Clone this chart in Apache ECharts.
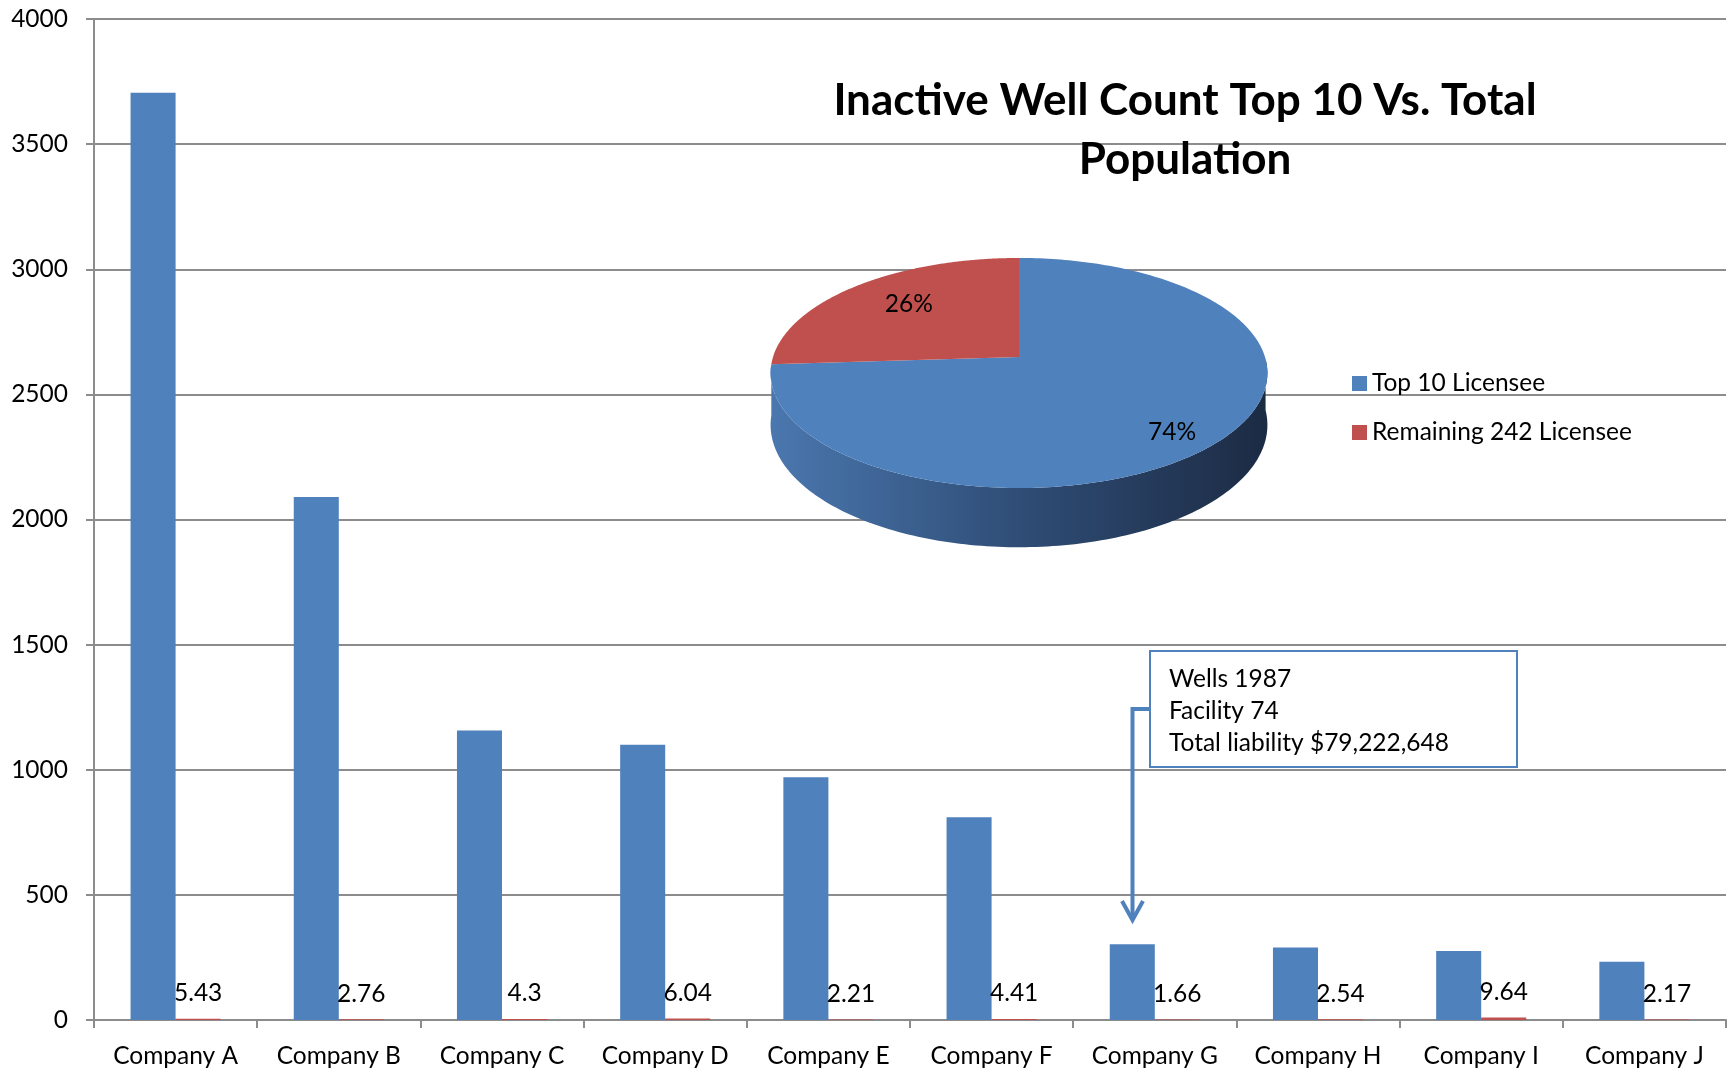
<!DOCTYPE html>
<html><head><meta charset="utf-8">
<script src="https://cdn.jsdelivr.net/npm/echarts@6/dist/echarts.min.js"></script>
<style>html,body{margin:0;padding:0;background:#fff}#c{width:1732px;height:1077px}</style>
</head><body><div id="c"></div>
<script>
// ---- data ----
const categories = ['Company A','Company B','Company C','Company D','Company E','Company F','Company G','Company H','Company I','Company J'];
const wellCounts = [3705, 2090, 1157, 1100, 970, 810, 303, 290, 276, 233];
const liabilityValues = [5.43, 2.76, 4.3, 6.04, 2.21, 4.41, 1.66, 2.54, 9.64, 2.17];
const yMin = 0, yMax = 4000, yInterval = 500;
const pieNames = ['Top 10 Licensee', 'Remaining 242 Licensee'];
const pieValues = [74, 26];
const noteLines = ['Wells 1987', 'Facility 74', 'Total liability $79,222,648'];
const titleText = 'Inactive Well Count Top 10 Vs. Total\nPopulation';

// ---- style ----
const FONT = 'Lato';
const FS = 24.5;
const BLUE = '#4f81bd', RED = '#c0504d';
const GRID_C = '#8c8c8c';
const pieColors = [BLUE, RED];
const sideStops = [
  [{offset:0,color:'#4a77ae'},{offset:0.5,color:'#2f4d76'},{offset:1,color:'#1c2b44'}],
  [{offset:0,color:'#a8433f'},{offset:0.5,color:'#7a2f2c'},{offset:1,color:'#4f1e1c'}]
];
const labelNudge = [[2, 10], [20, 3]];
const P = {cx:1019, cy:357, R:246, H:112.8, k:0.139, D:51};
function proj(a, down){
  const u = Math.cos(a), v = Math.sin(a), s = 1/(1+P.k*v);
  return [P.cx + P.R*u*s, P.cy - P.H*v*s + (down ? P.D*s : 0)];
}
function pieRender(idx){
  return function(params, api){
    const total = pieValues.reduce((s,v)=>s+v,0);
    let before = 0; for (let j=0;j<idx;j++) before += pieValues[j];
    const a0 = Math.PI/2 - 2*Math.PI*before/total;
    const a1 = a0 - 2*Math.PI*pieValues[idx]/total;
    const n = 240, step = (a0-a1)/n;
    const arc = []; for (let t=0;t<=n;t++) arc.push(a0 - t*step);
    const children = [];
    const runs = []; let run = [];
    arc.forEach(a => { if (Math.sin(a) <= 0.0001) run.push(a); else { if (run.length>1) runs.push(run); run = []; } });
    if (run.length>1) runs.push(run);
    runs.forEach(r => {
      const top = r.map(a=>proj(a,false));
      const xs = top.map(p=>p[0]);
      if (Math.max.apply(null,xs) - Math.min.apply(null,xs) < 2) return; // edge-on sliver, not visible
      const pts = top.concat(r.slice().reverse().map(a=>proj(a,true)));
      children.push({type:'polygon', shape:{points:pts},
        style:{fill: new echarts.graphic.LinearGradient(P.cx-P.R,0,P.cx+P.R,0, sideStops[idx], true)}});
    });
    const topFace = [[P.cx,P.cy]].concat(arc.map(a=>proj(a,false)));
    children.push({type:'polygon', shape:{points:topFace}, style:{fill:pieColors[idx]}});
    const mid = (a0+a1)/2, rr = 0.78;
    const u = rr*Math.cos(mid), v = rr*Math.sin(mid), s = 1/(1+P.k*v);
    children.push({type:'text', style:{text: Math.round(pieValues[idx]/total*100)+'%',
      x: P.cx + P.R*u*s + labelNudge[idx][0], y: P.cy - P.H*v*s + labelNudge[idx][1],
      align:'center', verticalAlign:'middle', font: FS + 'px ' + FONT, fill:'#000'}});
    return {type:'group', children};
  };
}

const chart = echarts.init(document.getElementById('c'), null, {renderer:'canvas'});
chart.setOption({
  animation:false,
  backgroundColor:'#fff',
  title:{text:titleText, left:1180, top:66, textAlign:'center',
    textStyle:{fontFamily:FONT, fontWeight:'bold', fontSize:44, lineHeight:59, color:'#000'}},
  legend:{data:pieNames, orient:'vertical', left:1352, top:371, padding:0, itemWidth:15, itemHeight:15, itemGap:24,
    icon:'rect', textStyle:{fontFamily:FONT, fontSize:FS, color:'#000'}},
  grid:{left:94, right:6, top:19, bottom:57, containLabel:false},
  xAxis:{type:'category', data:categories,
    axisLine:{lineStyle:{color:GRID_C, width:2}},
    axisTick:{show:true, length:8, lineStyle:{color:GRID_C, width:2}},
    axisLabel:{margin:24, fontFamily:FONT, fontSize:FS, color:'#000', interval:0}},
  yAxis:{type:'value', min:yMin, max:yMax, interval:yInterval,
    axisLine:{show:true, lineStyle:{color:GRID_C, width:2}},
    axisTick:{show:true, length:8, lineStyle:{color:GRID_C, width:2}},
    splitLine:{lineStyle:{color:GRID_C, width:2}},
    axisLabel:{margin:26, fontFamily:FONT, fontSize:FS, color:'#000', formatter: v => String(v)}},
  series:[
    {name:'Inactive Wells', type:'bar', data:wellCounts, barGap:'0%', barCategoryGap:'44.8%',
      itemStyle:{color:BLUE}},
    {name:'Liability', type:'bar', data:liabilityValues, barGap:'0%', barCategoryGap:'44.8%',
      itemStyle:{color:RED},
      label:{show:true, position:'top', distance:13, fontFamily:FONT, fontSize:FS, color:'#000'}},
    {name:pieNames[0], type:'custom', coordinateSystem:'none', data:[[0]], renderItem:pieRender(0),
      itemStyle:{color:BLUE}, z:5, silent:true},
    {name:pieNames[1], type:'custom', coordinateSystem:'none', data:[[0]], renderItem:pieRender(1),
      itemStyle:{color:RED}, z:6, silent:true}
  ],
  graphic:[
    {type:'rect', shape:{x:1150, y:651, width:367, height:116}, style:{fill:'#fff', stroke:BLUE, lineWidth:2}, z:10},
    {type:'text', x:1169, y:663, z:11, style:{text:noteLines.join('\n'), font:FS+'px '+FONT, lineHeight:32, fill:'#000', verticalAlign:'top'}},
    {type:'polyline', z:10, shape:{points:[[1150,709],[1132.5,709],[1132.5,919]]}, style:{stroke:BLUE, lineWidth:4, fill:null}},
    {type:'polyline', z:10, shape:{points:[[1122,901],[1132.5,920],[1143,901]]}, style:{stroke:BLUE, lineWidth:4, fill:null}}
  ]
});
</script></body></html>
